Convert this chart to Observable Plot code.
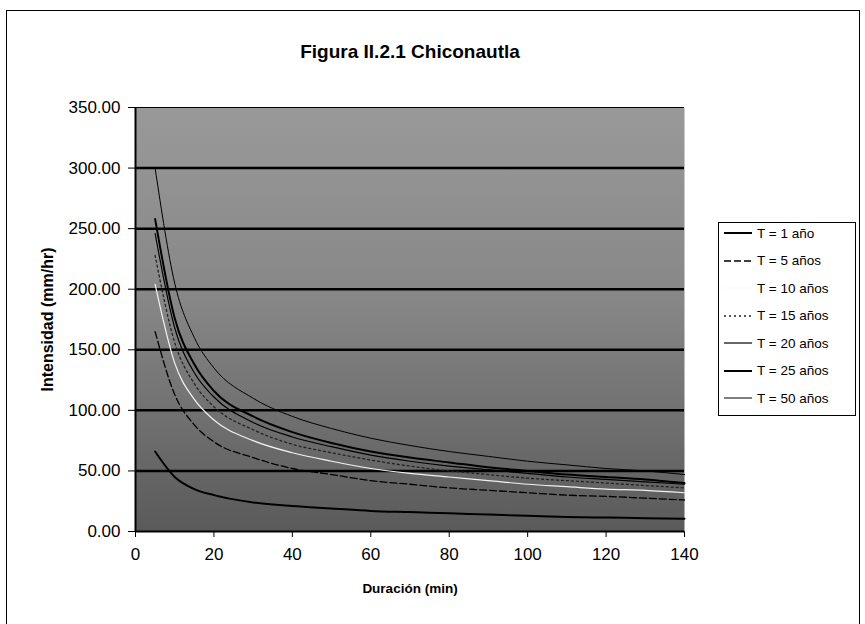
<!DOCTYPE html>
<html><head><meta charset="utf-8">
<script src="https://cdn.jsdelivr.net/npm/d3@7"></script>
<script src="https://cdn.jsdelivr.net/npm/@observablehq/plot@0.6"></script>
<style>
body{margin:0;background:#fff;}
#wrap{position:relative;width:865px;height:624px;overflow:hidden;font-family:"Liberation Sans",Arial,sans-serif;color:#000;}
#border{position:absolute;left:6px;top:10px;width:852px;height:700px;border-left:1.5px solid #000;border-top:1.5px solid #000;border-right:1.5px solid #000;}
#chart{position:absolute;left:0;top:0;}
#legend{position:absolute;left:718px;top:222px;width:138px;height:194px;border:1.5px solid #000;background:#fff;box-sizing:border-box;}
.item{position:absolute;left:4px;height:20px;display:flex;align-items:center;font-size:13.5px;white-space:nowrap;}
.item svg{margin-right:4px;}
</style>
</head><body>
<div id="wrap">
<div id="border"></div>
<div id="chart"></div>
<div id="legend"></div>
</div>
<script>
const title = "Figura II.2.1 Chiconautla";
const xLabel = "Duración (min)";
const yLabel = "Intensidad (mm/hr)";
const xTicks = [0, 20, 40, 60, 80, 100, 120, 140];
const yTicks = [0, 50, 100, 150, 200, 250, 300, 350];
const durations = [5, 10, 15, 20, 30, 40, 50, 60, 70, 80, 90, 100, 110, 120, 130, 140];
const seriesNames = ["T = 1 año", "T = 5 años", "T = 10 años", "T = 15 años", "T = 20 años", "T = 25 años", "T = 50 años"];
const t1  = [66, 45, 35, 30, 24, 21, 19, 17, 16, 15, 14, 13, 12, 11.5, 11, 10.5];
const t5  = [165, 113, 88, 74, 61, 52, 47, 42, 39, 36, 34, 32, 30, 29, 27.5, 26];
const t10 = [204, 139, 109, 92, 75, 65, 58, 52, 48, 45, 42, 39, 37, 35, 34, 32];
const t15 = [228, 156, 122, 103, 84, 72, 65, 59, 54, 50, 47, 44, 42, 40, 38, 36];
const t20 = [246, 168, 131, 111, 90, 78, 70, 63, 58, 54, 51, 48, 45, 43, 41, 39];
const t25 = [258, 176, 138, 116, 95, 82, 73, 66, 61, 57, 53, 50, 47, 45, 43, 40];
const t50 = [300, 205, 160, 135, 110, 95, 85, 77, 71, 66, 62, 58, 55, 52, 50, 47];
const seriesValues = [t1, t5, t10, t15, t20, t25, t50];

const styles = [
  {stroke: "#000", strokeWidth: 2},
  {stroke: "#000", strokeWidth: 1.3, strokeDasharray: "7,3"},
  {stroke: "#f2f2f2", strokeWidth: 1.2},
  {stroke: "#222", strokeWidth: 1.3, strokeDasharray: "2,3"},
  {stroke: "#000", strokeWidth: 1.2},
  {stroke: "#000", strokeWidth: 2},
  {stroke: "#000", strokeWidth: 1}
];

const font = '"Liberation Sans", Arial, sans-serif';
const lineMarks = seriesNames.map((name, i) => {
  const rows = durations.map((d, j) => ({d, v: seriesValues[i][j], s: name}));
  return Plot.line(rows, {x: "d", y: "v", curve: "monotone-x", ...styles[i]});
});

const chart = Plot.plot({
  width: 865, height: 624,
  marginLeft: 135, marginRight: 181, marginTop: 107, marginBottom: 93,
  style: {fontFamily: font, fontSize: "17px", color: "#000", background: "transparent", overflow: "visible"},
  x: {domain: [0, 140], ticks: xTicks, tickSize: 6, tickPadding: 10, label: null},
  y: {domain: [0, 350], ticks: yTicks, tickSize: 7, tickPadding: 8, tickFormat: d => d.toFixed(2), label: null},
  marks: [
    Plot.frame({fill: "url(#bg)", stroke: "none"}),
    Plot.ruleY(yTicks.filter(v => v > 0 && v < 350), {stroke: "#000", strokeWidth: 2.5}),
    Plot.ruleY([350], {stroke: "#000", strokeWidth: 1}),
    ...lineMarks,
    Plot.ruleX([0], {stroke: "#000", strokeWidth: 2}),
    Plot.ruleY([0], {stroke: "#000", strokeWidth: 2}),
    Plot.text([title], {text: d => d, frameAnchor: "top", dy: -63, fontWeight: "bold", fontSize: 19, fill: "#000"}),
    Plot.text([xLabel], {text: d => d, frameAnchor: "bottom", dy: 61, fontWeight: "bold", fontSize: 13.5, fill: "#000"}),
    Plot.text([yLabel], {text: d => d, frameAnchor: "left", dx: -88, rotate: -90, textAnchor: "middle", fontWeight: "bold", fontSize: 16, fill: "#000"})
  ]
});

const svg = d3.select(chart);
const defs = svg.insert("defs", ":first-child");
const grad = defs.append("linearGradient").attr("id", "bg").attr("x1", 0).attr("y1", 0).attr("x2", 0).attr("y2", 1);
grad.append("stop").attr("offset", "0%").attr("stop-color", "#999");
grad.append("stop").attr("offset", "45%").attr("stop-color", "#878787");
grad.append("stop").attr("offset", "100%").attr("stop-color", "#5a5a5a");
document.getElementById("chart").appendChild(chart);

// Legend
const legend = d3.select("#legend");
seriesNames.forEach((name, i) => {
  const item = legend.append("div").attr("class", "item").style("top", (0 + i * 27.5) + "px");
  const s = item.append("svg").attr("width", 30).attr("height", 10);
  s.append("line").attr("x1", 1).attr("x2", 29).attr("y1", 5).attr("y2", 5)
    .attr("stroke", styles[i].stroke === "#f2f2f2" ? "#fafafa" : styles[i].stroke)
    .attr("stroke-width", styles[i].strokeWidth)
    .attr("stroke-dasharray", styles[i].strokeDasharray || null);
  item.append("span").text(name);
});
</script>
</body></html>
